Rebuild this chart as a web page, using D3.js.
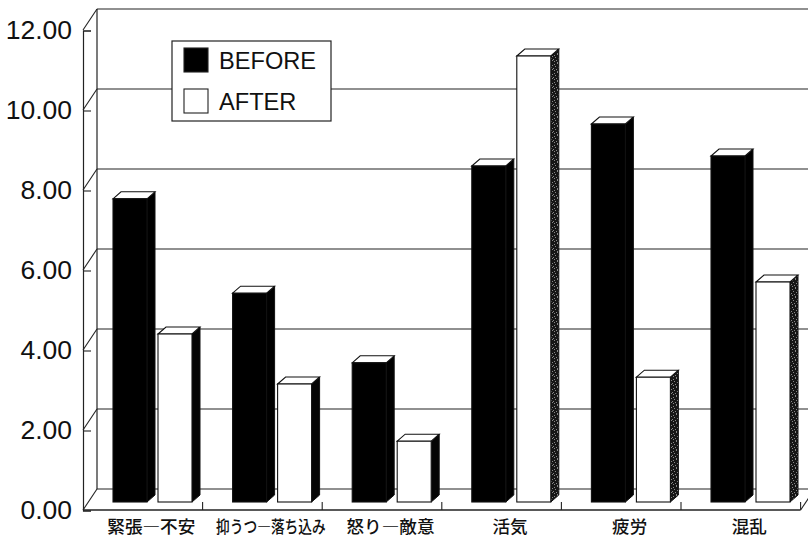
<!DOCTYPE html>
<html>
<head>
<meta charset="utf-8">
<script src="https://cdnjs.cloudflare.com/ajax/libs/d3/7.8.5/d3.min.js"></script>
<style>
  html, body { margin: 0; padding: 0; background: #fff; }
  svg { display: block; }
  text { fill: #111; }
  .ytick text { font-family: "Liberation Sans", sans-serif; font-size: 26.5px; }
  .xtick text { font-family: "Noto Sans CJK JP", sans-serif; font-size: 17.6px; font-weight: 500; }
  .legend text { font-family: "Liberation Sans", sans-serif; font-size: 23.6px; }
</style>
</head>
<body>
<svg id="chart" width="808" height="541"></svg>
<script>
var categories = ["緊張―不安", "抑うつ―落ち込み", "怒り―敵意", "活気", "疲労", "混乱"]
var before = [7.58, 5.22, 3.48, 8.4, 9.45, 8.65]
var after = [4.2, 2.95, 1.52, 11.15, 3.12, 5.5]
var yTicks = [0, 2, 4, 6, 8, 10, 12]
var seriesNames = ["BEFORE", "AFTER"]
// the scan prints the side of the first three white bars almost solid
var afterSide = ["#050505", "#050505", "#050505", "url(#speck)", "url(#speck)", "url(#speck)"]

var ink = "#222"
var back = { x: 14, y: -21 } // front of the box to the back wall
var barDepth = { x: 8, y: -7 }
var barLift = 8 // bars stand a little inside the floor

var svg = d3.select("#chart")

var x = d3.scaleBand().domain(categories).range([83, 800.6])
var xBar = d3.scaleBand().domain(seriesNames).range([30, 109]).paddingInner(0.2444).paddingOuter(0)
var y = d3.scaleLinear().domain([0, 12]).range([510, 30])

// speckled side of the bars
var speck = svg.append("defs").append("pattern")
  .attr("id", "speck")
  .attr("width", 7).attr("height", 9)
  .attr("patternUnits", "userSpaceOnUse")
speck.append("rect").attr("width", 7).attr("height", 9).attr("fill", "#161616")
var speckDots = [[1, 1], [4, 0], [6, 2], [2, 3], [5, 4], [0, 5], [3, 6], [6, 6], [1, 7], [4, 8]]
speck.selectAll("rect.dot").data(speckDots).enter().append("rect")
  .attr("class", "dot")
  .attr("x", d => d[0]).attr("y", d => d[1])
  .attr("width", 1).attr("height", 1)
  .attr("fill", "#888")

// back wall grid
svg.append("g").selectAll("line.grid").data(yTicks).enter().append("line")
  .attr("class", "grid")
  .attr("x1", x.range()[0] + back.x)
  .attr("x2", 808)
  .attr("y1", d => y(d) + back.y)
  .attr("y2", d => y(d) + back.y)
  .attr("stroke", ink).attr("stroke-width", 1.2)

// side wall
svg.append("g").selectAll("line.wall").data(yTicks).enter().append("line")
  .attr("class", "wall")
  .attr("x1", x.range()[0])
  .attr("x2", x.range()[0] + back.x)
  .attr("y1", d => y(d))
  .attr("y2", d => y(d) + back.y)
  .attr("stroke", ink).attr("stroke-width", 1.1)
svg.append("line")
  .attr("x1", x.range()[0] + back.x).attr("x2", x.range()[0] + back.x)
  .attr("y1", y(0) + back.y).attr("y2", y(12) + back.y)
  .attr("stroke", ink).attr("stroke-width", 1.2)

// floor edge on the right
svg.append("line")
  .attr("x1", x.range()[1]).attr("x2", x.range()[1] + back.x)
  .attr("y1", y(0)).attr("y2", y(0) + back.y)
  .attr("stroke", ink).attr("stroke-width", 1.1)

// y axis
var yAxis = d3.axisLeft(y)
  .tickValues(yTicks)
  .tickFormat(d3.format(".2f"))
  .tickSize(-8)
  .tickPadding(11)
svg.append("g")
  .attr("class", "ytick")
  .attr("transform", "translate(" + x.range()[0] + ",0.5)")
  .call(yAxis)
  .call(g => g.selectAll("line").attr("stroke", ink).attr("stroke-width", 1.1))
  .call(g => g.select(".domain").attr("stroke", ink).attr("stroke-width", 1.2))

// x axis, labels only, separators at the band edges
var xAxis = d3.axisBottom(x).tickSize(0).tickPadding(11)
svg.append("g")
  .attr("class", "xtick")
  .attr("transform", "translate(8.5," + y(0) + ")")
  .call(xAxis)
  .call(g => g.select(".domain").remove())
  // the long label is set condensed in the original
  .call(g => g.selectAll("text")
    .filter(d => d == "抑うつ―落ち込み")
    .attr("transform", "scale(0.78,1)"))

svg.append("line")
  .attr("x1", x.range()[0]).attr("x2", x.range()[1])
  .attr("y1", y(0)).attr("y2", y(0))
  .attr("stroke", ink).attr("stroke-width", 1.3)
svg.append("g").selectAll("line.sep").data(categories).enter().append("line")
  .attr("class", "sep")
  .attr("x1", d => x(d) + x.bandwidth()).attr("x2", d => x(d) + x.bandwidth())
  .attr("y1", y(0) - 8).attr("y2", y(0))
  .attr("stroke", ink).attr("stroke-width", 1.1)

// bars
function drawBars(values, name, frontFill, sideFill) {
  var groups = svg.append("g").selectAll("g.bar").data(values).enter().append("g").attr("class", "bar")
  var left = (d, i) => x(categories[i]) + xBar(name)
  var right = (d, i) => left(d, i) + xBar.bandwidth()
  var top = d => y(d) - barLift
  var bottom = y(0) - barLift

  groups.append("path") // side
    .attr("d", (d, i) => "M" + right(d, i) + "," + top(d) +
      "l" + barDepth.x + "," + barDepth.y +
      "V" + (bottom + barDepth.y) +
      "l" + (-barDepth.x) + "," + (-barDepth.y) + "Z")
    .attr("fill", sideFill)
    .attr("stroke", "#111").attr("stroke-width", 1)

  groups.append("path") // top
    .attr("d", (d, i) => "M" + left(d, i) + "," + top(d) +
      "l" + barDepth.x + "," + barDepth.y +
      "H" + (right(d, i) + barDepth.x) +
      "l" + (-barDepth.x) + "," + (-barDepth.y) + "Z")
    .attr("fill", "#fff")
    .attr("stroke", "#111").attr("stroke-width", 1.1)

  groups.append("rect") // front
    .attr("x", left)
    .attr("y", top)
    .attr("width", xBar.bandwidth())
    .attr("height", d => bottom - top(d))
    .attr("fill", frontFill)
    .attr("stroke", "#111").attr("stroke-width", 1.1)
}
drawBars(before, "BEFORE", "#000", "#000")
drawBars(after, "AFTER", "#fff", (d, i) => afterSide[i])

// legend
var legend = svg.append("g").attr("class", "legend").attr("transform", "translate(172,41)")
legend.append("rect")
  .attr("width", 159).attr("height", 80)
  .attr("fill", "#fff").attr("stroke", ink).attr("stroke-width", 1.2)
var rows = d3.scalePoint().domain(seriesNames).range([7, 48])
var items = legend.selectAll("g.item").data(seriesNames).enter().append("g")
  .attr("class", "item")
  .attr("transform", d => "translate(12," + rows(d) + ")")
items.append("rect")
  .attr("width", 24).attr("height", 24)
  .attr("fill", (d, i) => i == 0 ? "#000" : "#fff")
  .attr("stroke", ink).attr("stroke-width", 1.1)
items.append("text")
  .attr("x", 35).attr("y", 21)
  .text(d => d)
</script>
</body>
</html>
